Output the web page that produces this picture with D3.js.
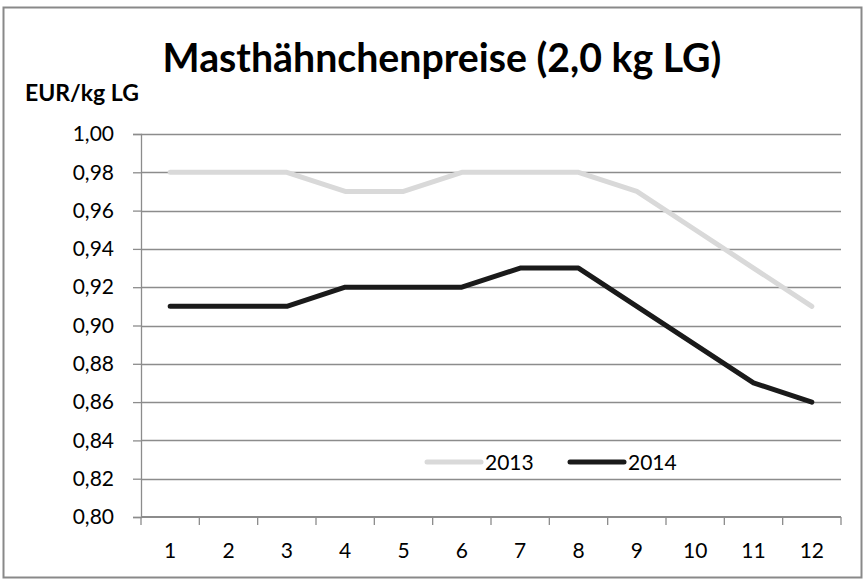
<!DOCTYPE html>
<html>
<head>
<meta charset="utf-8">
<script src="https://cdn.jsdelivr.net/npm/d3@7"></script>
<style>
  body { margin: 0; background: #fff; }
  text { font-family: Lato, "Open Sans", sans-serif; }
</style>
</head>
<body>
<svg id="chart" width="866" height="580"></svg>
<script>
// chart data
const months = ['1', '2', '3', '4', '5', '6', '7', '8', '9', '10', '11', '12'];
const prices2013 = [0.98, 0.98, 0.98, 0.97, 0.97, 0.98, 0.98, 0.98, 0.97, 0.95, 0.93, 0.91];
const prices2014 = [0.91, 0.91, 0.91, 0.92, 0.92, 0.92, 0.93, 0.93, 0.91, 0.89, 0.87, 0.86];
const yTicks = [0.80, 0.82, 0.84, 0.86, 0.88, 0.90, 0.92, 0.94, 0.96, 0.98, 1.00];

const series = [
  { name: '2013', values: prices2013, color: '#d9d9d9' },
  { name: '2014', values: prices2014, color: '#1a1a1a' }
];

const svg = d3.select('#chart');
const margin = { top: 134, right: 25, bottom: 63, left: 141 };
const width = 866 - margin.left - margin.right;
const height = 580 - margin.top - margin.bottom;

// outer frame
svg.append('rect')
  .attr('x', 3.5).attr('y', 7.5)
  .attr('width', 858).attr('height', 570)
  .attr('fill', '#fff')
  .attr('stroke', '#898989')
  .attr('stroke-width', 2);

// title
const title = svg.append('text')
  .attr('x', 442)
  .attr('y', 72)
  .attr('text-anchor', 'middle')
  .style('font-weight', '700')
  .style('font-size', '36px')
  .text('Masthähnchenpreise (2,0 kg LG)');

// fit title to the width seen in the reference
const titleW = title.node().getComputedTextLength();
title.style('font-size', (36 * 559 / titleW) + 'px');

// unit label
const unit = svg.append('text')
  .attr('x', 25)
  .attr('y', 101)
  .style('font-weight', '700')
  .style('font-size', '20px')
  .text('EUR/kg LG');
const unitW = unit.node().getComputedTextLength();
unit.style('font-size', (20 * 114 / unitW) + 'px');

const g = svg.append('g')
  .attr('transform', `translate(${margin.left},${margin.top})`);

const x = d3.scaleBand()
  .domain(months)
  .range([0, width]);

const y = d3.scaleLinear()
  .domain([0.80, 1.00])
  .range([height, 0]);

// horizontal gridlines
g.append('g')
  .selectAll('line')
  .data(yTicks.slice(1))
  .join('line')
  .attr('x1', 0)
  .attr('x2', width)
  .attr('y1', d => Math.round(y(d)) + 0.5)
  .attr('y2', d => Math.round(y(d)) + 0.5)
  .attr('stroke', '#8c8c8c')
  .attr('stroke-width', 1.3);

// y axis
const yAxis = g.append('g')
  .call(d3.axisLeft(y)
    .tickValues(yTicks)
    .tickSize(8)
    .tickPadding(19)
    .tickFormat(d => d3.format('.2f')(d).replace('.', ',')));

yAxis.select('.domain').attr('stroke', '#8c8c8c').attr('stroke-width', 1.3);
yAxis.selectAll('.tick line').attr('stroke', '#8c8c8c').attr('stroke-width', 1.3);
yAxis.selectAll('.tick text')
  .style('font-size', '21px')
  .attr('fill', '#000');

// x axis: ticks at category boundaries, labels centered
const xAxis = g.append('g')
  .attr('transform', `translate(0,${height})`);

xAxis.append('line')
  .attr('x1', 0).attr('x2', width)
  .attr('stroke', '#8c8c8c')
  .attr('stroke-width', 2);

const boundaries = months.map(m => x(m)).concat([width]);
xAxis.selectAll('line.tick')
  .data(boundaries)
  .join('line')
  .attr('class', 'tick')
  .attr('x1', d => d).attr('x2', d => d)
  .attr('y1', 0).attr('y2', 8)
  .attr('stroke', '#8c8c8c')
  .attr('stroke-width', 1.3);

xAxis.selectAll('text')
  .data(months)
  .join('text')
  .attr('x', d => x(d) + x.bandwidth() / 2)
  .attr('y', 41)
  .attr('text-anchor', 'middle')
  .style('font-size', '21px')
  .text(d => d);

// lines
const line = d3.line()
  .x((d, i) => x(months[i]) + x.bandwidth() / 2)
  .y(d => y(d));

g.selectAll('path.series')
  .data(series)
  .join('path')
  .attr('class', 'series')
  .attr('d', d => line(d.values))
  .attr('fill', 'none')
  .attr('stroke', d => d.color)
  .attr('stroke-width', 5)
  .attr('stroke-linejoin', 'round')
  .attr('stroke-linecap', 'round');

// legend inside plot
const legend = svg.append('g')
  .attr('transform', 'translate(427,462)');

const item = legend.selectAll('g')
  .data(series)
  .join('g')
  .attr('transform', (d, i) => `translate(${i * 143},0)`);

item.append('line')
  .attr('x1', 0).attr('x2', 54)
  .attr('stroke', d => d.color)
  .attr('stroke-width', 5)
  .attr('stroke-linecap', 'round');

item.append('text')
  .attr('x', 58)
  .attr('y', 7.5)
  .style('font-size', '21px')
  .text(d => d.name);
</script>
</body>
</html>
